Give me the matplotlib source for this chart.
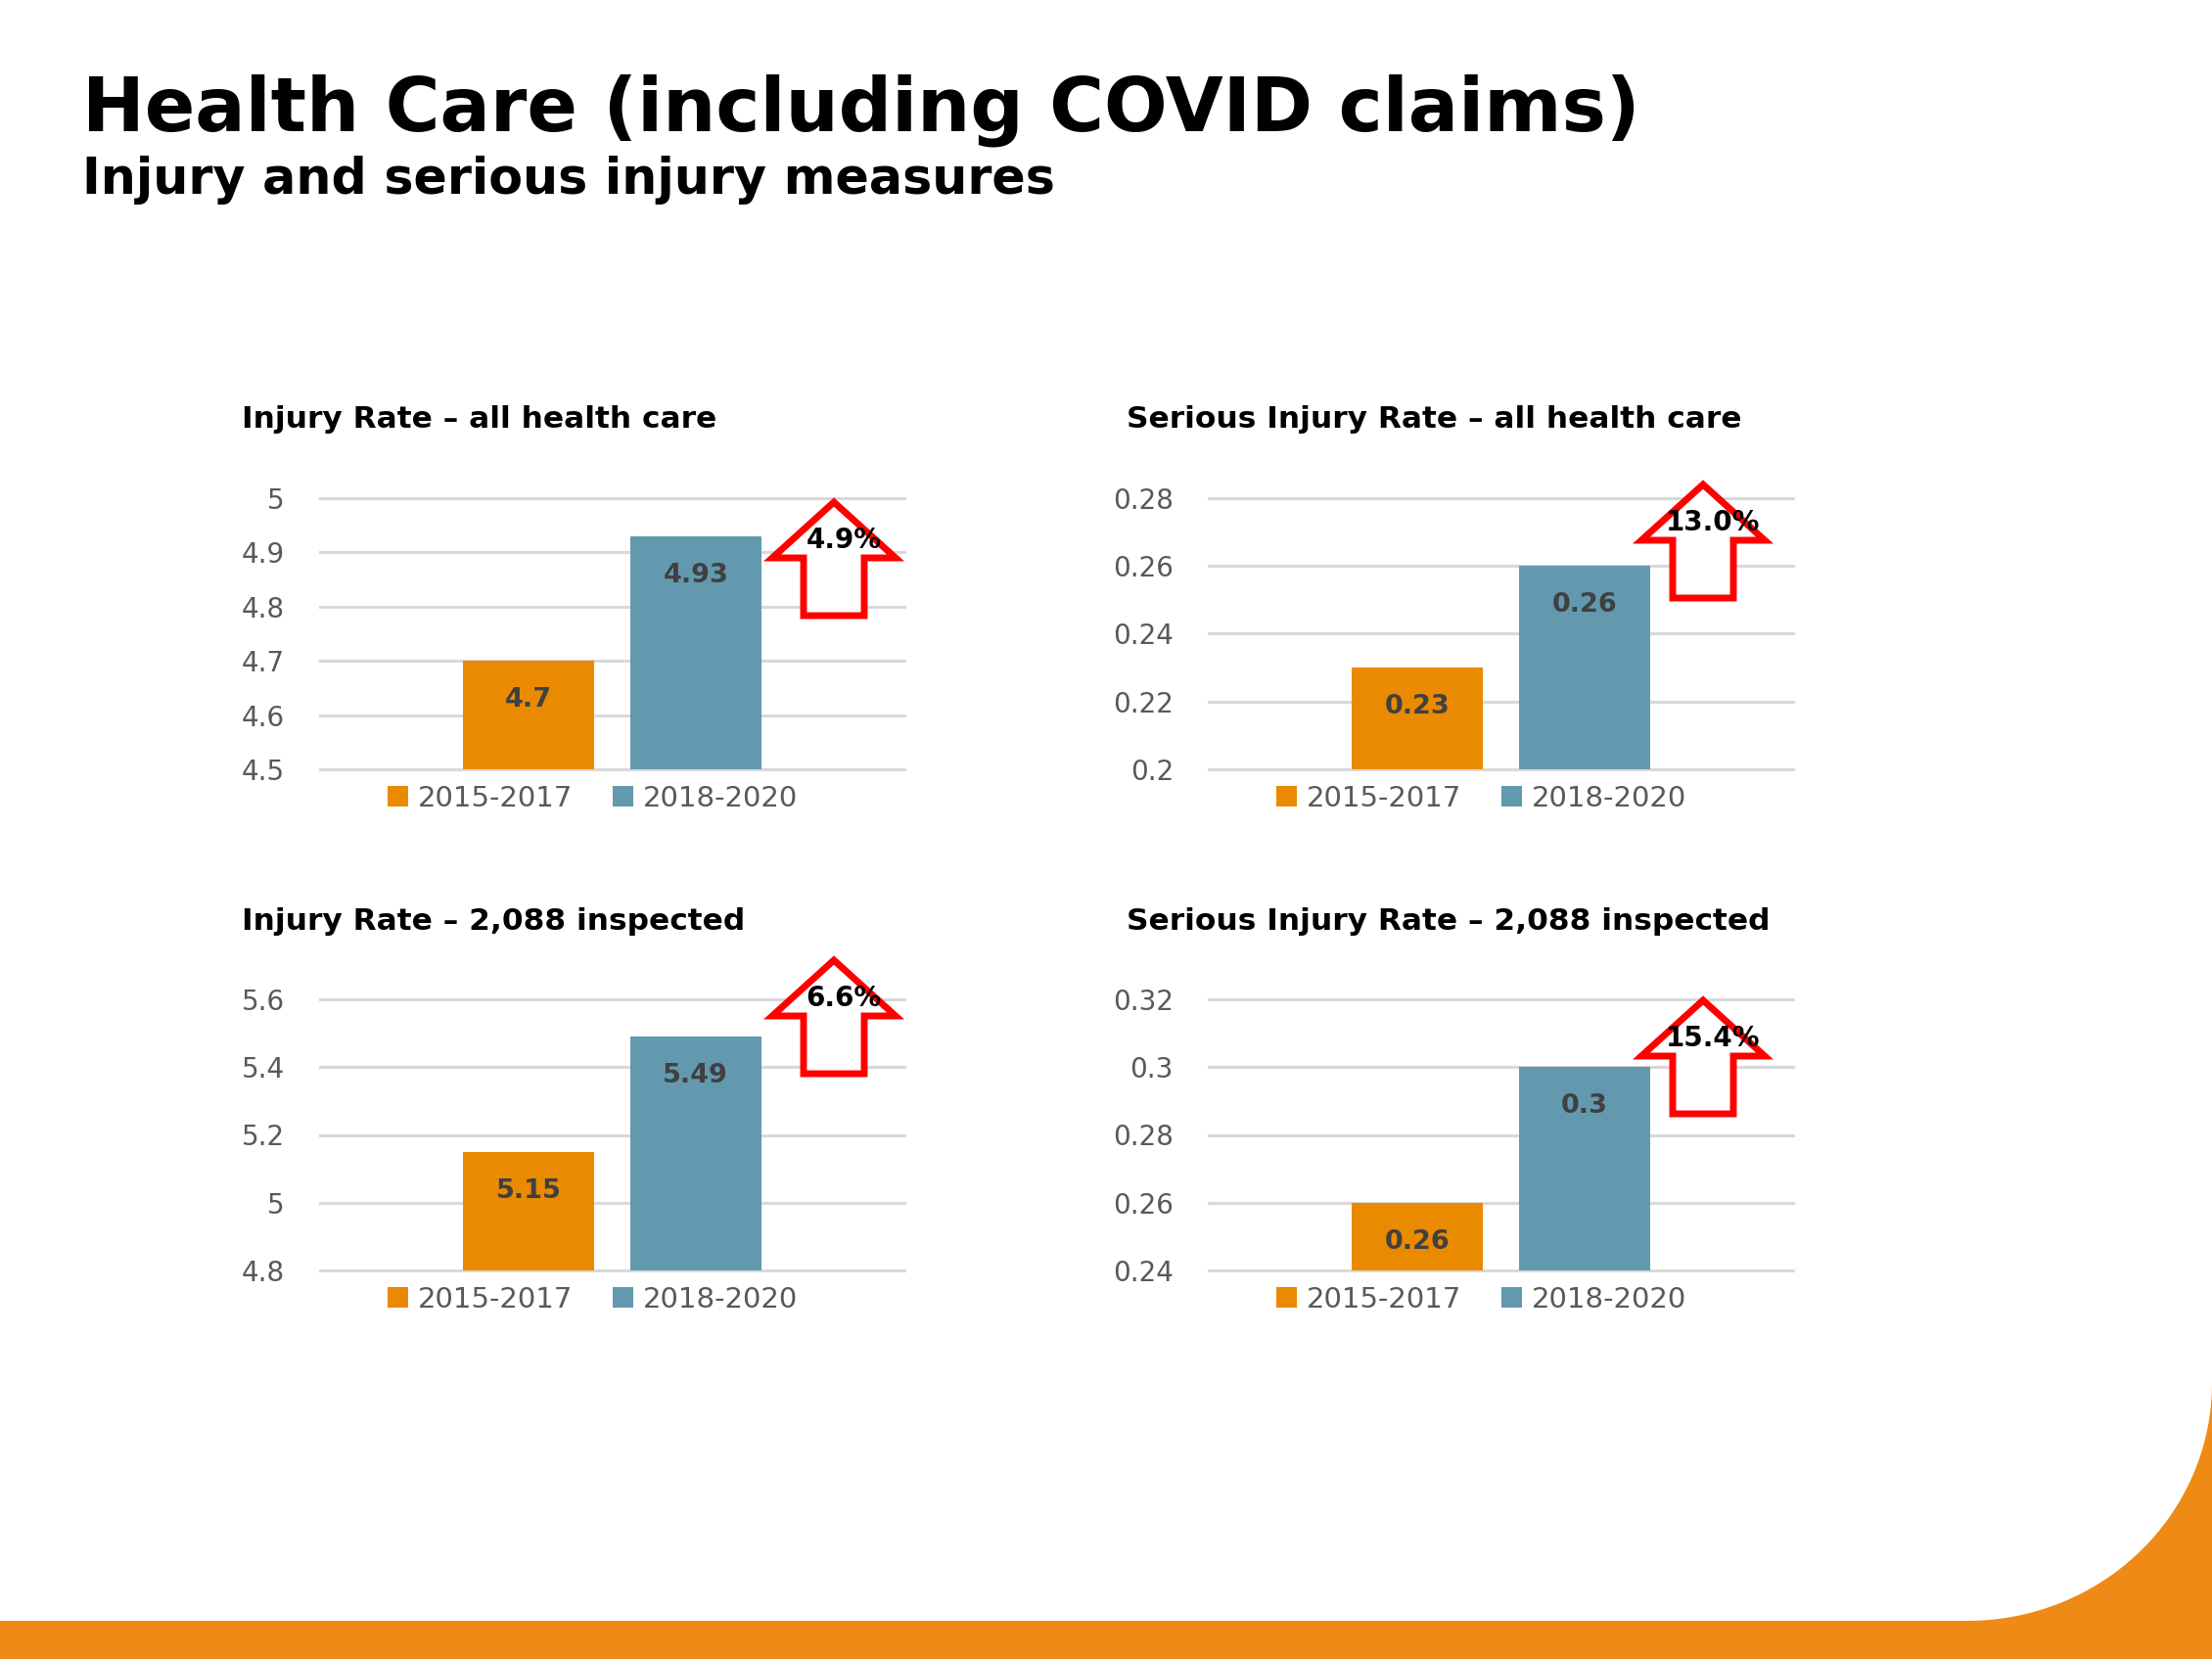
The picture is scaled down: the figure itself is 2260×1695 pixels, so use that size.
import numpy as np
import matplotlib
matplotlib.use("Agg")
import matplotlib.pyplot as plt
from matplotlib.patches import Patch, Polygon, Rectangle

# ---------------------------------------------------------------------------
# Data
# ---------------------------------------------------------------------------
periods = ["2015-2017", "2018-2020"]
panel_titles = [
    "Injury Rate \u2013 all health care",
    "Serious Injury Rate \u2013 all health care",
    "Injury Rate \u2013 2,088 inspected",
    "Serious Injury Rate \u2013 2,088 inspected",
]
rates_2015_2017 = [4.70, 0.23, 5.15, 0.26]
rates_2018_2020 = [4.93, 0.26, 5.49, 0.30]
pct_change = [4.9, 13.0, 6.6, 15.4]
y_limits = [(4.5, 5.0), (0.20, 0.28), (4.8, 5.6), (0.24, 0.32)]
y_steps = [0.1, 0.02, 0.2, 0.02]

# ---------------------------------------------------------------------------
# Layout / style (figure pixels, y measured from the top)
# ---------------------------------------------------------------------------
W, H = 2260, 1695
PLOT_LEFT = [327, 1235, 327, 1235]
PLOT_TOP = [509, 509, 1021, 1021]
PLOT_W, PLOT_H = 597, 277
TITLE_XY = [(247, 437), (1151, 437), (247, 950), (1151, 950)]
ARROW_TIPS = [(852, 508), (1740, 490), (852, 976), (1740, 1017)]

ORANGE = "#EA8A00"
BLUE = "#6399AF"
BAND = "#EF8A17"
GRID = "#D9D9D9"
FONT = "DejaVu Sans"


def fig_xy(x, y):
    return x / W, 1 - y / H


fig = plt.figure(figsize=(W / 100, H / 100), dpi=100)
fig.patch.set_facecolor("white")
plt.rcParams["font.family"] = FONT

# slide title
fig.text(*fig_xy(84, 133), "Health Care (including COVID claims)",
         fontsize=54.8, fontweight="bold", va="baseline")
fig.text(*fig_xy(84, 198), "Injury and serious injury measures",
         fontsize=36.5, fontweight="bold", va="baseline")

bar_w = 0.449
offsets = [-0.286, 0.286]
colors = [ORANGE, BLUE]

for i in range(4):
    left, bottom = fig_xy(PLOT_LEFT[i], PLOT_TOP[i] + PLOT_H)
    ax = fig.add_axes([left, bottom, PLOT_W / W, PLOT_H / H])
    ax.patch.set_alpha(0)

    values = [rates_2015_2017[i], rates_2018_2020[i]]
    for off, v, c in zip(offsets, values, colors):
        ax.bar(off, v - y_limits[i][0], bottom=y_limits[i][0], width=bar_w,
               color=c, zorder=2)
        ax.annotate(f"{v:g}", xy=(off, v), xytext=(0, -28.8),
                    textcoords="offset points", ha="center", va="center",
                    fontsize=19.5, fontweight="bold", color="#404040", zorder=3)

    lo, hi = y_limits[i]
    ticks = np.arange(lo, hi + y_steps[i] / 2, y_steps[i])
    ax.set_ylim(lo, hi)
    ax.set_xlim(-1, 1)
    ax.set_yticks(ticks)
    ax.set_yticklabels([f"{round(t, 2):g}" for t in ticks],
                       fontsize=20, color="#595959")
    ax.tick_params(axis="y", length=0, pad=26)
    ax.set_xticks([])
    for s in ax.spines.values():
        s.set_visible(False)
    ax.yaxis.grid(True, color=GRID, linewidth=2.2)
    ax.set_axisbelow(True)
    for gl in ax.get_ygridlines():
        gl.set_clip_on(False)

    handles = [Patch(facecolor=c, edgecolor="none") for c in colors]
    leg = ax.legend(handles, periods, loc="center", bbox_to_anchor=(0.467, -0.108),
                    ncol=2, frameon=False, fontsize=21, handlelength=0.72,
                    handleheight=0.72, handletextpad=0.34, columnspacing=1.4)
    for t in leg.get_texts():
        t.set_color("#595959")

    tx, ty = TITLE_XY[i]
    fig.text(*fig_xy(tx, ty), panel_titles[i], fontsize=22.5, fontweight="bold",
             va="baseline")

# ---------------------------------------------------------------------------
# Overlay: red "up" arrows and the orange slide decoration
# ---------------------------------------------------------------------------
ov = fig.add_axes([0, 0, 1, 1], zorder=10)
ov.set_xlim(0, W)
ov.set_ylim(H, 0)
ov.axis("off")
ov.patch.set_alpha(0)

for (tx, ty), pct in zip(ARROW_TIPS, pct_change):
    pts = [(tx, ty + 5), (tx + 63, ty + 62), (tx + 31, ty + 62), (tx + 31, ty + 121),
           (tx - 31, ty + 121), (tx - 31, ty + 62), (tx - 63, ty + 62)]
    ov.add_patch(Polygon(pts, closed=True, facecolor="white", edgecolor="#FF0000",
                         linewidth=5, joinstyle="miter"))
    ov.text(tx + 10, ty + 44, f"{pct:.1f}%", ha="center", va="center",
            fontsize=20, fontweight="bold", color="black")

# bottom band + curved corner
ov.add_patch(Rectangle((0, 1656), W, H - 1656, facecolor=BAND, edgecolor="none"))
theta = np.linspace(np.pi / 2, 0, 60)
cx, cy, rx, ry = 2010, 1413, 250, 243
arc = list(zip(cx + rx * np.cos(theta), cy + ry * np.sin(theta)))
ov.add_patch(Polygon(arc + [(W, 1656)], closed=True, facecolor=BAND, edgecolor="none"))

fig.savefig("out.png", dpi=100, facecolor="white")
